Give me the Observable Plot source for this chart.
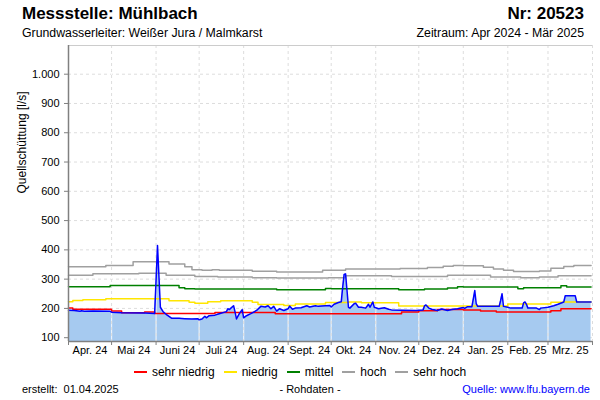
<!DOCTYPE html>
<html><head><meta charset="utf-8">
<script src="https://cdn.jsdelivr.net/npm/d3@7"></script>
<script src="https://cdn.jsdelivr.net/npm/@observablehq/plot@0.6"></script>
<style>
body{margin:0;background:#fff;}
#wrap{position:relative;width:600px;height:400px;font-family:"Liberation Sans",Arial,sans-serif;color:#000;overflow:hidden;background:#fff}
.t{position:absolute;white-space:pre;line-height:normal}
#chart{position:absolute;left:0;top:40px}
#legend{position:absolute;left:0;top:365px;width:600px;display:flex;justify-content:center;align-items:center;font-size:12px;line-height:14px}
#legend .it{display:flex;align-items:center;margin:0 4.5px}
#legend .sw{display:inline-block;width:13px;height:1.5px;margin-right:5px}
</style></head><body>
<div id="wrap">
  <div class="t" style="left:22px;top:4px;font-size:17px;font-weight:bold">Messstelle: Mühlbach</div>
  <div class="t" style="right:16px;top:4px;font-size:17px;font-weight:bold">Nr: 20523</div>
  <div class="t" style="left:22px;top:26px;font-size:12.3px">Grundwasserleiter: Weißer Jura / Malmkarst</div>
  <div class="t" style="right:16px;top:26px;font-size:12.3px">Zeitraum: Apr 2024 - Mär 2025</div>
  <div id="chart"></div>
  <div id="legend"></div>
  <div class="t" style="left:22px;top:383px;font-size:11px">erstellt:  01.04.2025</div>
  <div class="t" style="left:0;width:620px;text-align:center;top:383px;font-size:11px">- Rohdaten -</div>
  <div class="t" style="right:10px;top:383px;font-size:11px;color:#0000ff">Quelle: www.lfu.bayern.de</div>
</div>
<script>
// ---------- data ----------
const monthLabels = ["Apr. 24","Mai 24","Juni 24","Juli 24","Aug. 24","Sept. 24","Okt. 24","Nov. 24","Dez. 24","Jan. 25","Feb. 25","Mrz. 25"];
const monthStarts = ["2024-04-01","2024-05-01","2024-06-01","2024-07-01","2024-08-01","2024-09-01","2024-10-01","2024-11-01","2024-12-01","2025-01-01","2025-02-01","2025-03-01","2025-04-01"];
const yTicks = [100,200,300,400,500,600,700,800,900,1000];
const yDomain = [87, 1098];

const legendLabels = ["sehr niedrig","niedrig","mittel","hoch","sehr hoch"];
const legendColors = ["#ff0000","#ffe600","#008000","#a0a0a0","#a0a0a0"];

const sehrHoch = [["2024-04-01",342],["2024-04-27",347],["2024-05-16",359],["2024-06-10",352],["2024-06-21",342],["2024-06-26",332],["2024-07-03",330],["2024-07-10",332],["2024-07-15",330],["2024-08-07",327],["2024-08-24",324],["2024-09-25",330],["2024-10-11",335],["2024-11-18",336],["2024-12-07",340],["2024-12-18",344],["2024-12-25",347],["2025-01-01",346],["2025-01-15",341],["2025-01-22",335],["2025-01-29",330],["2025-02-05",326],["2025-02-23",328],["2025-03-03",337],["2025-03-12",343],["2025-03-19",347],["2025-03-31",347]];
const hoch = [["2024-04-01",313],["2024-04-18",318],["2024-05-20",320],["2024-06-08",313],["2024-06-28",309],["2024-07-14",307],["2024-08-07",305],["2024-08-24",304],["2024-09-29",305],["2024-10-11",312],["2024-11-12",309],["2024-12-21",313],["2025-01-20",307],["2025-02-10",305],["2025-02-23",307],["2025-03-08",312],["2025-03-31",312]];
const mittel = [["2024-04-01",274],["2024-04-30",278],["2024-06-17",271],["2024-06-21",267],["2024-06-28",266],["2024-08-24",264],["2024-09-27",268],["2024-10-01",267],["2024-11-17",264],["2024-12-05",266],["2024-12-21",270],["2024-12-28",274],["2025-01-01",273],["2025-02-08",267],["2025-02-12",271],["2025-03-10",277],["2025-03-14",273],["2025-03-31",273]];
const niedrig = [["2024-04-01",223],["2024-04-04",227],["2024-04-11",230],["2024-04-27",233],["2024-06-10",226],["2024-06-24",221],["2024-06-28",218],["2024-07-07",223],["2024-07-16",226],["2024-08-07",221],["2024-08-11",213],["2024-08-29",210],["2024-09-06",215],["2024-09-27",220],["2024-10-13",222],["2024-10-22",219],["2024-11-17",208],["2025-02-01",215],["2025-03-03",221],["2025-03-12",222],["2025-03-31",222]];
const sehrNiedrig = [["2024-04-01",201],["2024-04-04",197],["2024-05-01",191],["2024-05-08",185],["2024-05-24",188],["2024-05-31",183],["2024-07-12",186],["2024-08-23",182],["2024-11-19",188],["2024-12-01",192],["2024-12-14",196],["2025-01-01",195],["2025-01-13",191],["2025-01-24",188],["2025-03-03",192],["2025-03-10",199],["2025-03-31",199]];
const schuettung = [["2024-04-01",194],["2024-04-05",193],["2024-04-09",190],["2024-04-10",192],["2024-04-12",190],["2024-04-18",191],["2024-04-30",190],["2024-05-01",187],["2024-05-08",185],["2024-05-24",184],["2024-05-31",183],["2024-06-01",296],["2024-06-02",415],["2024-06-04",204],["2024-06-06",188],["2024-06-08",180],["2024-06-10",173],["2024-06-12",166],["2024-06-17",166],["2024-06-21",165],["2024-06-26",164],["2024-06-30",165],["2024-07-01",161],["2024-07-03",164],["2024-07-05",173],["2024-07-06",168],["2024-07-08",175],["2024-07-12",177],["2024-07-15",182],["2024-07-20",189],["2024-07-21",199],["2024-07-22",196],["2024-07-25",209],["2024-07-26",188],["2024-07-27",164],["2024-07-29",182],["2024-07-31",196],["2024-08-01",168],["2024-08-03",175],["2024-08-06",182],["2024-08-10",193],["2024-08-13",207],["2024-08-16",205],["2024-08-18",209],["2024-08-20",199],["2024-08-22",207],["2024-08-24",191],["2024-08-26",199],["2024-08-29",193],["2024-09-01",199],["2024-09-02",208],["2024-09-04",197],["2024-09-06",201],["2024-09-10",202],["2024-09-14",209],["2024-09-16",205],["2024-09-20",209],["2024-09-22",207],["2024-09-27",209],["2024-09-30",210],["2024-10-01",205],["2024-10-03",214],["2024-10-06",220],["2024-10-08",223],["2024-10-09",273],["2024-10-10",316],["2024-10-11",318],["2024-10-12",261],["2024-10-13",204],["2024-10-14",201],["2024-10-17",216],["2024-10-18",218],["2024-10-20",204],["2024-10-22",204],["2024-10-25",201],["2024-10-27",214],["2024-10-28",204],["2024-10-30",222],["2024-10-31",204],["2024-11-03",199],["2024-11-07",202],["2024-11-10",197],["2024-11-12",195],["2024-11-19",194],["2024-11-29",193],["2024-12-04",195],["2024-12-05",209],["2024-12-06",212],["2024-12-08",201],["2024-12-10",197],["2024-12-14",193],["2024-12-17",198],["2024-12-21",193],["2024-12-24",196],["2024-12-28",199],["2025-01-01",203],["2025-01-02",200],["2025-01-04",206],["2025-01-07",206],["2025-01-08",233],["2025-01-09",261],["2025-01-10",216],["2025-01-11",207],["2025-01-26",207],["2025-01-27",227],["2025-01-28",250],["2025-01-29",207],["2025-02-01",204],["2025-02-03",201],["2025-02-11",201],["2025-02-12",219],["2025-02-13",222],["2025-02-14",214],["2025-02-15",201],["2025-02-21",201],["2025-02-23",196],["2025-02-24",201],["2025-03-01",204],["2025-03-05",209],["2025-03-08",214],["2025-03-12",222],["2025-03-13",243],["2025-03-20",243],["2025-03-21",222],["2025-03-31",222]];

// ---------- build ----------
const parse = d3.utcParse("%Y-%m-%d");
const rows = arr => arr.map(([d, v]) => ({date: parse(d), value: v}));
const starts = monthStarts.map(parse);
const monthRows = monthLabels.map((label, i) => ({label, mid: new Date((+starts[i] + +starts[i + 1]) / 2)}));
const gridDates = starts.slice(1);
const de = d3.formatLocale({decimal: ",", thousands: ".", grouping: [3], currency: ["", " €"]});
const fmt = de.format(",");
const font = '"Liberation Sans", Arial, sans-serif';

const stepLine = (arr, color) => Plot.line(rows(arr), {x: "date", y: "value", curve: "step-after", stroke: color, strokeWidth: 1.5});

const chart = Plot.plot({
  width: 600, height: 320,
  marginTop: 5, marginBottom: 19, marginLeft: 68, marginRight: 8,
  x: {type: "utc", domain: [starts[0], starts[starts.length - 1]], axis: null},
  y: {domain: yDomain, axis: null},
  style: {fontFamily: font, fontSize: "11px", background: "#fff", color: "#000", overflow: "visible"},
  marks: [
    Plot.ruleY(yTicks, {stroke: "#dddddd", strokeDasharray: "3,3"}),
    Plot.areaY(rows(schuettung), {x: "date", y1: yDomain[0], y2: "value", fill: "#a6caf0"}),
    Plot.ruleX(gridDates, {stroke: "#ffffff", strokeOpacity: 0.75, strokeWidth: 1.2}),
    Plot.ruleX(gridDates, {stroke: "#dddddd", strokeDasharray: "3,3"}),
    Plot.ruleY([yDomain[1]], {stroke: "#cccccc"}),
    stepLine(sehrHoch, legendColors[4]),
    stepLine(hoch, legendColors[3]),
    stepLine(mittel, legendColors[2]),
    stepLine(niedrig, legendColors[1]),
    stepLine(sehrNiedrig, legendColors[0]),
    Plot.line(rows(schuettung), {x: "date", y: "value", stroke: "#0000ff", strokeWidth: 1.5}),
    Plot.ruleX([starts[0]], {stroke: "#808080", strokeWidth: 1.5}),
    Plot.ruleY([yDomain[0]], {stroke: "#808080", strokeWidth: 1.5}),
    Plot.axisY(yTicks, {tickSize: 4, tickPadding: 5, stroke: "#808080", tickFormat: fmt, fontSize: 11, label: null}),
    Plot.axisX(starts, {tickSize: 4, stroke: "#808080", tickFormat: () => "", label: null}),
    Plot.text(monthRows, {x: "mid", text: "label", frameAnchor: "bottom", dy: 12, fontSize: 11, fill: "#000"}),
    Plot.text(["Quellschüttung [l/s]"], {text: d => d, frameAnchor: "left", rotate: -90, dx: -46, fontSize: 12, fill: "#000"})
  ]
});
document.getElementById("chart").appendChild(chart);

const lg = document.getElementById("legend");
legendLabels.forEach((l, i) => {
  const it = document.createElement("span");
  it.className = "it";
  const sw = document.createElement("span");
  sw.className = "sw";
  sw.style.background = legendColors[i];
  const tx = document.createElement("span");
  tx.textContent = l;
  it.appendChild(sw); it.appendChild(tx);
  lg.appendChild(it);
});
</script>
</body></html>
